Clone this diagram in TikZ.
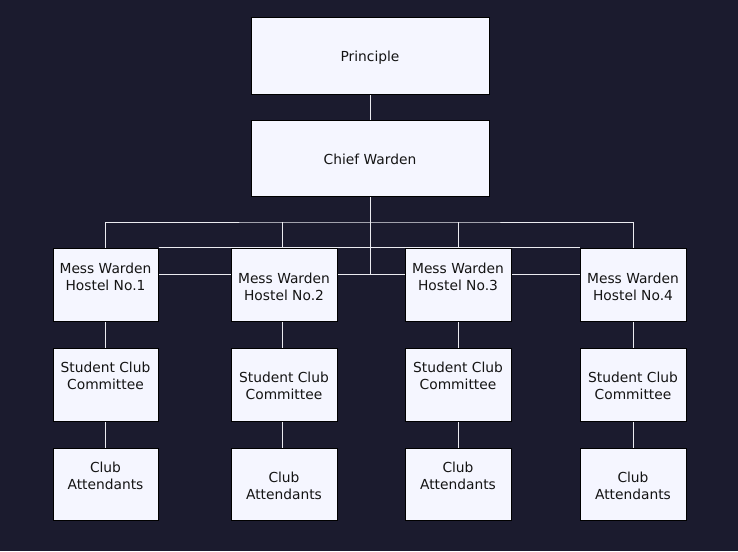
\documentclass[tikz,border=0pt]{standalone}
\usepackage{fontspec}
\setmainfont{DejaVu Sans}
\usetikzlibrary{positioning}
\definecolor{bgc}{RGB}{27,27,46}
\definecolor{boxc}{RGB}{245,246,255}
\definecolor{linec}{RGB}{235,235,240}
\definecolor{txtc}{RGB}{20,20,20}
\pgfdeclarelayer{bglayer}
\pgfdeclarelayer{edges}
\pgfsetlayers{bglayer,edges,main}
\tikzset{
  box/.style={draw=black, fill=boxc, line width=1pt, rectangle, inner sep=0pt},
  bigbox/.style={box, minimum width=238pt, minimum height=76pt},
  smallbox/.style={box, minimum width=105pt, minimum height=73pt},
  lbl/.style={text=txtc, align=center, font=\fontsize{13.8}{17}\selectfont, inner sep=0pt},
  conn/.style={draw=linec, line width=1pt}
}
\begin{document}
\begin{tikzpicture}[x=1pt,y=-1pt]
\begin{pgfonlayer}{bglayer}
\fill[bgc] (0,0) rectangle (738,551);
\end{pgfonlayer}
\useasboundingbox (0,0) rectangle (738,551);

% top boxes
\node[bigbox] (pr) at (370,56) {};
\node[lbl] (prt) at (370,57.5) {Principle};
\node[bigbox] (cw) at (370,158) {};
\node[lbl] (cwt) at (370,159.5) {Chief Warden};

% Mess warden row
\node[smallbox] (m1) at (105.5,284.5) {};
\node[smallbox, minimum width=106pt] (m2) at (284,284.5) {};
\node[smallbox, minimum width=106pt] (m3) at (458,284.5) {};
\node[smallbox, minimum width=106pt] (m4) at (633,284.5) {};
\node[lbl] (m1t) at (105.5,277) {Mess Warden\\Hostel No.1};
\node[lbl] (m2t) at (284,287) {Mess Warden\\Hostel No.2};
\node[lbl] (m3t) at (458,277) {Mess Warden\\Hostel No.3};
\node[lbl] (m4t) at (633,287) {Mess Warden\\Hostel No.4};

% Student club row
\node[smallbox] (s1) at (105.5,384.5) {};
\node[smallbox, minimum width=106pt] (s2) at (284,384.5) {};
\node[smallbox, minimum width=106pt] (s3) at (458,384.5) {};
\node[smallbox, minimum width=106pt] (s4) at (633,384.5) {};
\node[lbl] (s1t) at (105.5,376) {Student Club\\Committee};
\node[lbl] (s2t) at (284,386) {Student Club\\Committee};
\node[lbl] (s3t) at (458,376) {Student Club\\Committee};
\node[lbl] (s4t) at (633,386) {Student Club\\Committee};

% Club attendants row
\node[smallbox, minimum height=72pt] (c1) at (105.5,484) {};
\node[smallbox, minimum width=106pt, minimum height=72pt] (c2) at (284,484) {};
\node[smallbox, minimum width=106pt, minimum height=72pt] (c3) at (458,484) {};
\node[smallbox, minimum width=106pt, minimum height=72pt] (c4) at (633,484) {};
\node[lbl] (c1t) at (105.5,476) {Club\\Attendants};
\node[lbl] (c2t) at (284,486) {Club\\Attendants};
\node[lbl] (c3t) at (458,476) {Club\\Attendants};
\node[lbl] (c4t) at (633,486) {Club\\Attendants};

\begin{pgfonlayer}{edges}
\draw[conn] (pr.south) -- (cw.north);
\coordinate (j) at (370,222);
\draw[conn] (cw.south) -- (j);
\draw[conn] (m1.north) |- (j) -| (m4.north);
\draw[conn] ([xshift=-2pt]m2.north) -- ([xshift=-2pt]m2.north |- j);
\draw[conn] (m3.north) -- (m3.north |- j);
\coordinate (k) at (370,274);
\draw[conn] (j) -- (k);
\draw[conn] (m1.north east) -- (m4.north west);
\draw[conn] (m1.east |- k) -- (m4.west |- k);
\draw[conn] (m1.south) -- (s1.north);
\draw[conn] ([xshift=-2pt]m2.south) -- ([xshift=-2pt]s2.north);
\draw[conn] (m3.south) -- (s3.north);
\draw[conn] (m4.south) -- (s4.north);
\draw[conn] (s1.south) -- (c1.north);
\draw[conn] ([xshift=-2pt]s2.south) -- ([xshift=-2pt]c2.north);
\draw[conn] (s3.south) -- (c3.north);
\draw[conn] (s4.south) -- (c4.north);
\end{pgfonlayer}
\end{tikzpicture}
\end{document}
